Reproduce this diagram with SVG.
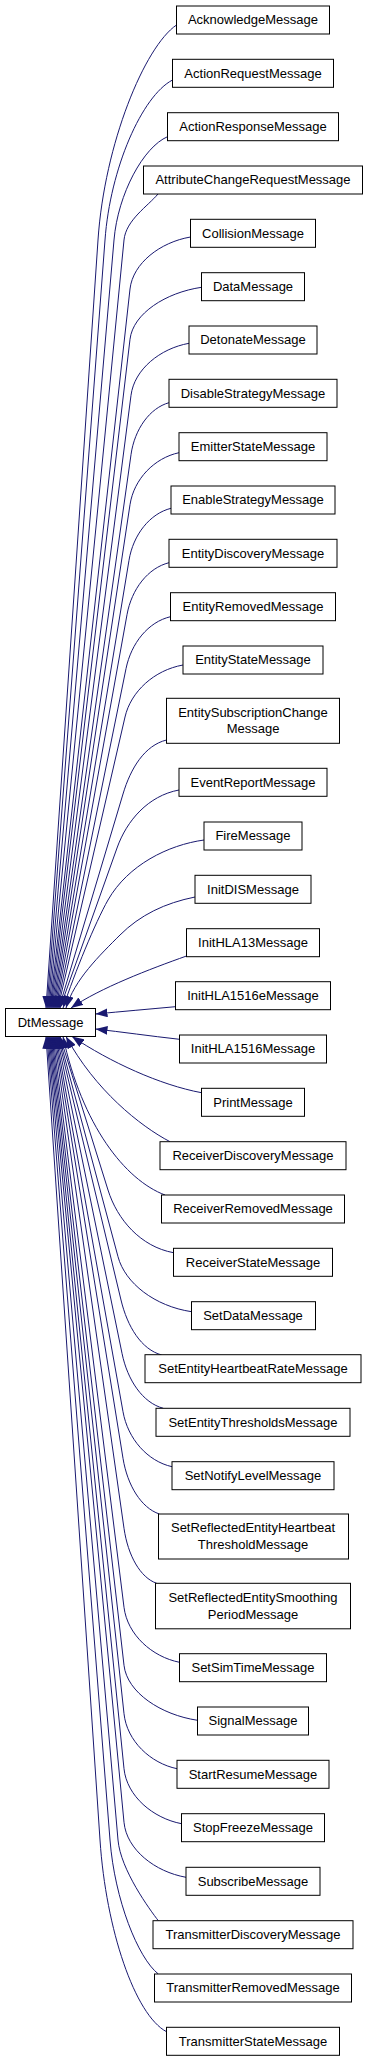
<svg xmlns="http://www.w3.org/2000/svg" width="368" height="2061" viewBox="0 0 368 2061">
<defs>
<marker id="ah" markerWidth="12" markerHeight="9" refX="12" refY="4.5" orient="auto" markerUnits="userSpaceOnUse"><path d="M0,0 L12,4.5 L0,9 z" fill="#191970"/></marker>
<style>
.e{fill:none;stroke:#191970;stroke-width:1;marker-end:url(#ah)}
.n rect{fill:#fff;stroke:#000;stroke-width:1}
.n text{font-family:"Liberation Sans",Arial,Helvetica,sans-serif;font-size:13px;text-anchor:middle;fill:#000}
</style>
</defs>
<rect width="368" height="2061" fill="#fff"/>
<g id="edges">
<path class="e" d="M176.5,25 C144.8,46.5 104.5,143.4 98,240 L46,1008"/>
<path class="e" d="M172.5,80 C142,96 110.2,168.2 105,240 L47,1008"/>
<path class="e" d="M167.5,136.7 C143.5,147 117.9,193.7 114,240 L48,1008"/>
<path class="e" d="M158,194 C148,206 125.9,220.1 124,240 L49,1008"/>
<path class="e" d="M190.5,237 C160.2,242.2 132.9,263.2 130,289 L50,1008"/>
<path class="e" d="M201.5,287.3 C165.9,292.5 133,313.5 130,339.3 L51,1008"/>
<path class="e" d="M189,343.3 C160,348.5 134.3,369.5 131,395.3 L52,1008"/>
<path class="e" d="M169,402.7 C150,407.9 134.6,428.9 131,454.7 L53,1008"/>
<path class="e" d="M179,452.7 C154.5,457.9 133.9,479 130,504.7 L54,1008"/>
<path class="e" d="M171,508.3 C150,513.5 133.2,534.6 129,560.3 L55,1008"/>
<path class="e" d="M169,562.7 C148,567.9 131.6,589.1 127,614.7 L56,1008"/>
<path class="e" d="M170.5,616.7 C148.2,621.9 131.2,643.2 126,668.7 L57,1008"/>
<path class="e" d="M183,665 C154,670.2 130.8,691.7 125,717 L58,1008"/>
<path class="e" d="M166.5,740 C144.7,745.4 130.7,768.1 123,794 L59,1008"/>
<path class="e" d="M179,790 C148,795.8 126.7,820.7 117,848 L60,1008"/>
<path class="e" d="M204,840 C168,845 128,865 108,900 C95,923 75,972 63,1008"/>
<path class="e" d="M195,897 C165,903 140,915 120,935 C100,955 74,980 66,1008"/>
<path class="e" d="M186.5,956 C150,969 100,988 71,1008"/>
<path class="e" d="M175.5,1006.7 C150,1009 122,1011.5 95.5,1014"/>
<path class="e" d="M179.5,1039.3 C150,1036 122,1032 95.5,1029"/>
<path class="e" d="M201.5,1092.7 C160,1085 110,1062 72,1036.5"/>
<path class="e" d="M170,1141.7 C140,1126 95,1090 66,1036.5"/>
<path class="e" d="M165,1195 C125,1180 82,1125 63,1036.5"/>
<path class="e" d="M173.5,1252.7 C140.7,1246.7 117.2,1219.6 108,1190 L60,1036.5"/>
<path class="e" d="M191.5,1311.7 C154.9,1306.2 125.1,1283.3 118,1256.7 L59,1036.5"/>
<path class="e" d="M161.7,1355 C141.4,1349.5 127.4,1326.7 121,1300 L58,1036.5"/>
<path class="e" d="M163.3,1408.3 C142.7,1402.8 127.5,1380.2 122,1353.3 L57,1036.5"/>
<path class="e" d="M172,1466.7 C147.5,1461.2 127.8,1438.8 123,1411.7 L56,1036.5"/>
<path class="e" d="M159.3,1514 C141.2,1507.8 127.4,1485.4 123,1458.3 L55,1036.5"/>
<path class="e" d="M156.7,1583.3 C140.4,1577.8 127.9,1555.5 124,1528.3 L54,1036.5"/>
<path class="e" d="M179.5,1662.3 C151.9,1656.8 127.4,1634.6 124,1607.3 L53,1036.5"/>
<path class="e" d="M197.5,1720.3 C160.9,1714.8 127.1,1692.6 124,1665.3 L52,1036.5"/>
<path class="e" d="M177,1768.7 C150.5,1763.2 126.9,1741 124,1713.7 L51,1036.5"/>
<path class="e" d="M181.5,1823.7 C152.9,1818.2 126.8,1796.1 124,1768.7 L50,1036.5"/>
<path class="e" d="M186,1877.3 C155,1871.8 126.6,1849.7 124,1822.3 L49,1036.5"/>
<path class="e" d="M158.3,1920.7 C150,1910 120.6,1869.9 118,1840 L48,1036.5"/>
<path class="e" d="M158.3,1974 C138,1958 114.7,1899.8 110,1840 L47,1036.5"/>
<path class="e" d="M166.5,2031.7 C135,2015 106,1929.8 100,1840 L46,1036.5"/>
</g>
<g id="DtMessage" class="n"><rect x="5.5" y="1008.5" width="90" height="28"/><text x="50.5" y="1027">DtMessage</text></g>
<g id="AcknowledgeMessage" class="n"><rect x="176.5" y="6" width="153" height="28"/><text x="253" y="24.3">AcknowledgeMessage</text></g>
<g id="ActionRequestMessage" class="n"><rect x="172.5" y="59.3" width="161" height="28"/><text x="253" y="77.6">ActionRequestMessage</text></g>
<g id="ActionResponseMessage" class="n"><rect x="167.5" y="112.7" width="171" height="28"/><text x="253" y="131">ActionResponseMessage</text></g>
<g id="AttributeChangeRequestMessage" class="n"><rect x="143.5" y="166" width="219" height="28"/><text x="253" y="184.3">AttributeChangeRequestMessage</text></g>
<g id="CollisionMessage" class="n"><rect x="190.5" y="219.3" width="125" height="28"/><text x="253" y="237.6">CollisionMessage</text></g>
<g id="DataMessage" class="n"><rect x="201.5" y="272.7" width="103" height="28"/><text x="253" y="291">DataMessage</text></g>
<g id="DetonateMessage" class="n"><rect x="189" y="326" width="128" height="28"/><text x="253" y="344.3">DetonateMessage</text></g>
<g id="DisableStrategyMessage" class="n"><rect x="169" y="379.3" width="168" height="28"/><text x="253" y="397.6">DisableStrategyMessage</text></g>
<g id="EmitterStateMessage" class="n"><rect x="179" y="432.7" width="148" height="28"/><text x="253" y="451">EmitterStateMessage</text></g>
<g id="EnableStrategyMessage" class="n"><rect x="171" y="486" width="164" height="28"/><text x="253" y="504.3">EnableStrategyMessage</text></g>
<g id="EntityDiscoveryMessage" class="n"><rect x="169" y="539.3" width="168" height="28"/><text x="253" y="557.6">EntityDiscoveryMessage</text></g>
<g id="EntityRemovedMessage" class="n"><rect x="170.5" y="592.7" width="165" height="28"/><text x="253" y="611">EntityRemovedMessage</text></g>
<g id="EntityStateMessage" class="n"><rect x="183" y="646" width="140" height="28"/><text x="253" y="664.3">EntityStateMessage</text></g>
<g id="EntitySubscriptionChangeMessage" class="n"><rect x="166.5" y="698.3" width="173" height="45"/><text x="253" y="716.6">EntitySubscriptionChange</text><text x="253" y="733.3">Message</text></g>
<g id="EventReportMessage" class="n"><rect x="179" y="768.3" width="148" height="28"/><text x="253" y="786.6">EventReportMessage</text></g>
<g id="FireMessage" class="n"><rect x="204" y="822" width="98" height="28"/><text x="253" y="840.3">FireMessage</text></g>
<g id="InitDISMessage" class="n"><rect x="195" y="875.3" width="116" height="28"/><text x="253" y="893.6">InitDISMessage</text></g>
<g id="InitHLA13Message" class="n"><rect x="186.5" y="928.7" width="133" height="28"/><text x="253" y="947">InitHLA13Message</text></g>
<g id="InitHLA1516eMessage" class="n"><rect x="175.5" y="981.7" width="155" height="28"/><text x="253" y="1000">InitHLA1516eMessage</text></g>
<g id="InitHLA1516Message" class="n"><rect x="179.5" y="1035" width="147" height="28"/><text x="253" y="1053.3">InitHLA1516Message</text></g>
<g id="PrintMessage" class="n"><rect x="201.5" y="1088.3" width="103" height="28"/><text x="253" y="1106.6">PrintMessage</text></g>
<g id="ReceiverDiscoveryMessage" class="n"><rect x="160" y="1141.7" width="186" height="28"/><text x="253" y="1160">ReceiverDiscoveryMessage</text></g>
<g id="ReceiverRemovedMessage" class="n"><rect x="161.5" y="1195" width="183" height="28"/><text x="253" y="1213.3">ReceiverRemovedMessage</text></g>
<g id="ReceiverStateMessage" class="n"><rect x="173.5" y="1248.3" width="159" height="28"/><text x="253" y="1266.6">ReceiverStateMessage</text></g>
<g id="SetDataMessage" class="n"><rect x="191.5" y="1301.7" width="124" height="28"/><text x="253" y="1320">SetDataMessage</text></g>
<g id="SetEntityHeartbeatRateMessage" class="n"><rect x="145" y="1354.7" width="216" height="28"/><text x="253" y="1373">SetEntityHeartbeatRateMessage</text></g>
<g id="SetEntityThresholdsMessage" class="n"><rect x="156" y="1408.3" width="194" height="28"/><text x="253" y="1426.6">SetEntityThresholdsMessage</text></g>
<g id="SetNotifyLevelMessage" class="n"><rect x="172" y="1461.7" width="162" height="28"/><text x="253" y="1480">SetNotifyLevelMessage</text></g>
<g id="SetReflectedEntityHeartbeatThresholdMessage" class="n"><rect x="158.5" y="1514" width="190" height="45"/><text x="253" y="1532.3">SetReflectedEntityHeartbeat</text><text x="253" y="1549">ThresholdMessage</text></g>
<g id="SetReflectedEntitySmoothingPeriodMessage" class="n"><rect x="155.5" y="1583.3" width="195" height="45.5"/><text x="253" y="1601.6">SetReflectedEntitySmoothing</text><text x="253" y="1618.5">PeriodMessage</text></g>
<g id="SetSimTimeMessage" class="n"><rect x="179.5" y="1653.7" width="147" height="28"/><text x="253" y="1672">SetSimTimeMessage</text></g>
<g id="SignalMessage" class="n"><rect x="197.5" y="1707" width="111" height="28"/><text x="253" y="1725.3">SignalMessage</text></g>
<g id="StartResumeMessage" class="n"><rect x="177" y="1760.3" width="152" height="28"/><text x="253" y="1778.6">StartResumeMessage</text></g>
<g id="StopFreezeMessage" class="n"><rect x="181.5" y="1813.7" width="143" height="28"/><text x="253" y="1832">StopFreezeMessage</text></g>
<g id="SubscribeMessage" class="n"><rect x="186" y="1867.3" width="134" height="28"/><text x="253" y="1885.6">SubscribeMessage</text></g>
<g id="TransmitterDiscoveryMessage" class="n"><rect x="153" y="1920.7" width="200" height="28"/><text x="253" y="1939">TransmitterDiscoveryMessage</text></g>
<g id="TransmitterRemovedMessage" class="n"><rect x="154.5" y="1974" width="197" height="28"/><text x="253" y="1992.3">TransmitterRemovedMessage</text></g>
<g id="TransmitterStateMessage" class="n"><rect x="166.5" y="2027.3" width="173" height="28"/><text x="253" y="2045.6">TransmitterStateMessage</text></g>
</svg>
